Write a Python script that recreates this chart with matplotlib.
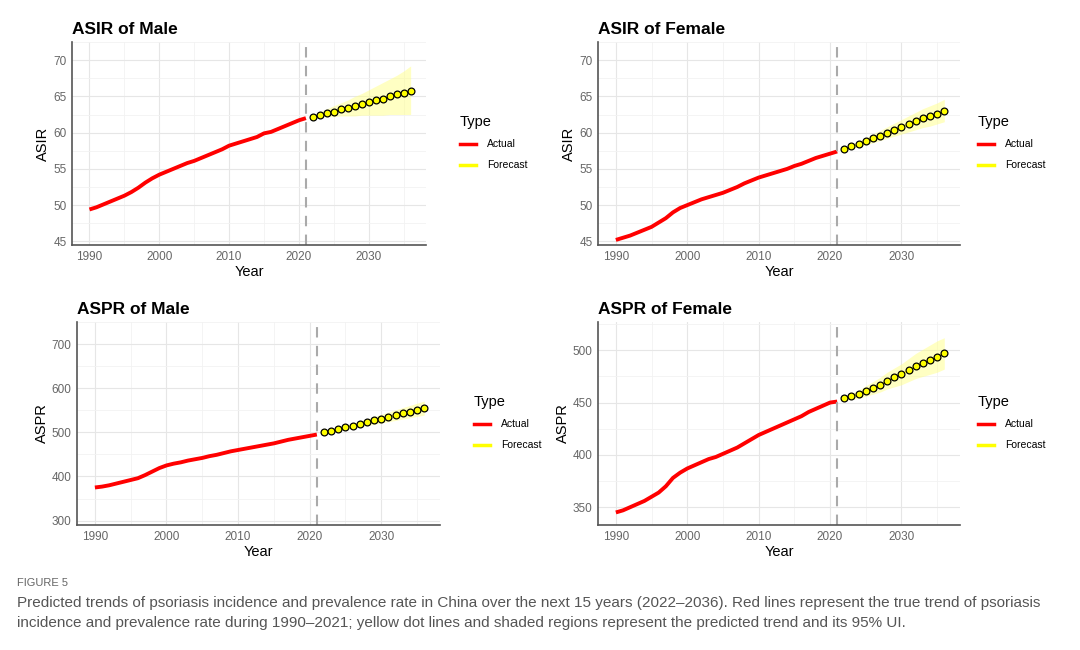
import matplotlib.pyplot as plt

years_actual = list(range(1990, 2022))
years_fc = list(range(2022, 2037))

asir_male = [49.4, 49.7, 50.1, 50.5, 50.9, 51.3, 51.8, 52.4, 53.1, 53.7, 54.2, 54.6, 55.0, 55.4, 55.8, 56.1,
             56.5, 56.9, 57.3, 57.7, 58.2, 58.5, 58.8, 59.1, 59.4, 59.9, 60.1, 60.5, 60.9, 61.3, 61.7, 62.0]
asir_male_fc = [62.2, 62.5, 62.7, 62.9, 63.2, 63.4, 63.7, 63.9, 64.2, 64.5, 64.7, 65.0, 65.3, 65.5, 65.8]
asir_male_lo = [62.0, 62.1, 62.2, 62.2, 62.3, 62.3, 62.3, 62.4, 62.4, 62.4, 62.4, 62.5, 62.5, 62.5, 62.5]
asir_male_hi = [62.4, 62.9, 63.3, 63.7, 64.1, 64.5, 65.0, 65.4, 65.9, 66.4, 66.9, 67.4, 67.9, 68.5, 69.2]

asir_female = [45.2, 45.5, 45.8, 46.2, 46.6, 47.0, 47.6, 48.2, 49.0, 49.6, 50.0, 50.4, 50.8, 51.1, 51.4, 51.7,
               52.1, 52.5, 53.0, 53.4, 53.8, 54.1, 54.4, 54.7, 55.0, 55.4, 55.7, 56.1, 56.5, 56.8, 57.1, 57.4]
asir_female_fc = [57.7, 58.1, 58.4, 58.8, 59.2, 59.6, 60.0, 60.4, 60.8, 61.2, 61.6, 62.0, 62.3, 62.6, 63.0]
asir_female_lo = [57.5, 57.8, 58.0, 58.3, 58.6, 58.9, 59.2, 59.5, 59.8, 60.1, 60.4, 60.7, 60.9, 61.2, 61.5]
asir_female_hi = [57.9, 58.4, 58.8, 59.3, 59.8, 60.3, 60.8, 61.3, 61.8, 62.3, 62.8, 63.3, 63.7, 64.1, 64.6]

aspr_male = [375, 377, 380, 384, 388, 392, 396, 403, 411, 419, 425, 429, 432, 436, 439, 442,
             446, 449, 453, 457, 460, 463, 466, 469, 472, 475, 479, 483, 486, 489, 492, 495]
aspr_male_fc = [500, 503, 507, 511, 515, 519, 523, 527, 531, 535, 539, 543, 547, 551, 555]
aspr_male_lo = [498, 500, 503, 506, 509, 512, 515, 518, 521, 524, 527, 530, 533, 536, 539]
aspr_male_hi = [502, 506, 511, 516, 521, 526, 531, 536, 541, 546, 551, 556, 561, 566, 571]

aspr_female = [345, 347, 350, 353, 356, 360, 364, 370, 378, 383, 387, 390, 393, 396, 398, 401,
               404, 407, 411, 415, 419, 422, 425, 428, 431, 434, 437, 441, 444, 447, 450, 451]
aspr_female_fc = [454, 456, 458, 461, 464, 467, 471, 474, 477, 481, 485, 488, 491, 494, 497]
aspr_female_lo = [452, 453, 454, 456, 458, 460, 463, 465, 467, 470, 473, 475, 477, 479, 482]
aspr_female_hi = [456, 459, 462, 466, 470, 474, 479, 483, 487, 492, 497, 501, 505, 509, 512]

panels = [
    ("ASIR of Male", "ASIR", asir_male, asir_male_fc, asir_male_lo, asir_male_hi, (44.5, 70.5), [45, 50, 55, 60, 65, 70]),
    ("ASIR of Female", "ASIR", asir_female, asir_female_fc, asir_female_lo, asir_female_hi, (44.5, 70.5), [45, 50, 55, 60, 65, 70]),
    ("ASPR of Male", "ASPR", aspr_male, aspr_male_fc, aspr_male_lo, aspr_male_hi, (290, 710), [300, 400, 500, 600, 700]),
    ("ASPR of Female", "ASPR", aspr_female, aspr_female_fc, aspr_female_lo, aspr_female_hi, (333, 527), [350, 400, 450, 500]),
]

# axes rectangles in pixels (left, top, right, bottom)
boxes = [(72, 42, 426, 245), (598, 42, 960, 245), (77, 322, 440, 525), (598, 322, 960, 525)]

W, H = 1080, 650
fig = plt.figure(figsize=(W / 100, H / 100), dpi=100)
plt.rcParams['font.family'] = ['Liberation Sans', 'DejaVu Sans']

for (title, ylab, act, fc, lo, hi, ylim, yt), (l, t, r, b) in zip(panels, boxes):
    ax = fig.add_axes([l / W, 1 - b / H, (r - l) / W, (b - t) / H])
    ax.fill_between(years_fc, lo, hi, color="#ffff88", alpha=0.5, linewidth=0)
    ax.plot(years_actual, act, color="red", linewidth=2.8, solid_capstyle="butt")
    ax.plot(years_fc, fc, color="yellow", linewidth=1)
    ax.scatter(years_fc, fc, s=24, facecolor="yellow", edgecolor="black", linewidth=0.9, zorder=3)
    ax.axvline(2021, color="#aaaaaa", linestyle=(0, (5, 4)), linewidth=1.5)
    ax.set_xlim(1987.5, 2038.2)
    ax.set_ylim(*ylim)
    ax.set_xticks([1990, 2000, 2010, 2020, 2030])
    ax.set_xticks([1995, 2005, 2015, 2025, 2035], minor=True)
    ax.set_yticks(yt)
    step = yt[1] - yt[0]
    ax.set_yticks([v + step / 2 for v in yt], minor=True)
    ax.grid(True, which="major", color="#e6e6e6", linewidth=0.8)
    ax.grid(True, which="minor", color="#f2f2f2", linewidth=0.6)
    ax.set_axisbelow(True)
    for s in ["top", "right"]:
        ax.spines[s].set_visible(False)
    for s in ["left", "bottom"]:
        ax.spines[s].set_color("#555555")
        ax.spines[s].set_linewidth(1.2)
    ax.tick_params(which="both", length=0, labelsize=8.5, labelcolor="#666666", pad=4)
    ax.set_title(title, loc="left", fontsize=12.5, fontweight="bold", pad=6)
    ax.set_xlabel("Year", fontsize=10.5, labelpad=2)
    ax.set_ylabel(ylab, fontsize=10.5, labelpad=2)

    lx = (r + 34) / W if r < 500 else (r + 18) / W
    ty = 1 - (t + 80) / H
    fig.text(lx, ty, "Type", fontsize=10.5, va="center")
    for i, (lab, col) in enumerate([("Actual", "red"), ("Forecast", "yellow")]):
        yy = ty - (22 + 21 * i) / H
        fig.add_artist(plt.Line2D([lx, lx + 16 / W], [yy, yy], color=col, linewidth=2.5))
        fig.text(lx + 27 / W, yy, lab, fontsize=7.5, va="center")

fig.text(17 / W, 1 - 583 / H, "FIGURE 5", fontsize=8, color="#666666", va="center")
fig.text(17 / W, 1 - 613 / H,
         "Predicted trends of psoriasis incidence and prevalence rate in China over the next 15 years (2022\u20132036). Red lines represent the true trend of psoriasis\n"
         "incidence and prevalence rate during 1990\u20132021; yellow dot lines and shaded regions represent the predicted trend and its 95% UI.",
         fontsize=11, color="#555555", va="center", linespacing=1.5)

fig.savefig("out.png", dpi=100)
